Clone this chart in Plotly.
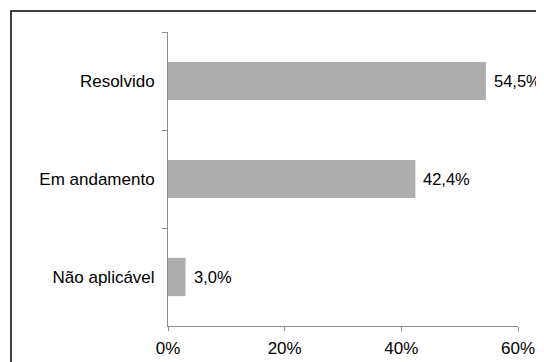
import plotly.graph_objects as go

# Dados do gráfico
categorias = ["Resolvido", "Em andamento", "Não aplicável"]
percentuais = [54.5, 42.4, 3.0]
rotulos = [f"{v:.1f}".replace(".", ",") + "%" for v in percentuais]
ticks_x = [0, 20, 40, 60]
ticks_x_texto = [f"{t}%" for t in ticks_x]

fonte = "Liberation Sans, Arial, sans-serif"
cinza_eixo = "#8c8c8c"

fig = go.Figure(go.Bar(
    x=percentuais,
    y=categorias,
    orientation="h",
    width=0.39,
    marker=dict(color="#adadad", line=dict(width=0)),
))

# Rótulos de dados à direita das barras
for cat, v, txt in zip(categorias, percentuais, rotulos):
    fig.add_annotation(x=v, y=cat, text=txt, showarrow=False,
                       xanchor="left", xshift=6,
                       font=dict(family=fonte, size=16.5, color="black"))

# a página tem 8px de margem no body -> figura um pouco menor
fig.update_layout(
    width=536, height=354,
    margin=dict(l=160, r=26, t=24, b=36),
    paper_bgcolor="white", plot_bgcolor="white",
    showlegend=False,
    font=dict(family=fonte, size=17, color="black"),
    xaxis=dict(range=[0, 60], tickvals=ticks_x, ticktext=ticks_x_texto,
               showgrid=False, zeroline=False, automargin=False,
               showline=True, linecolor=cinza_eixo, linewidth=1,
               ticks="outside", ticklen=4, tickcolor=cinza_eixo,
               ticklabelstandoff=3),
    yaxis=dict(autorange="reversed", showgrid=False, zeroline=False,
               automargin=False,
               showline=True, linecolor=cinza_eixo, linewidth=1,
               ticks="outside", ticklen=5, tickcolor=cinza_eixo,
               tickson="boundaries", ticklabelstandoff=9),
)

# Moldura externa (cortada à direita e embaixo, como na imagem)
fig.add_shape(type="rect", xref="paper", yref="paper",
              x0=-0.4486, x1=1.2, y0=-0.3, y1=1.0714,
              line=dict(color="black", width=1.5), layer="above")

fig.write_html("out.html")
